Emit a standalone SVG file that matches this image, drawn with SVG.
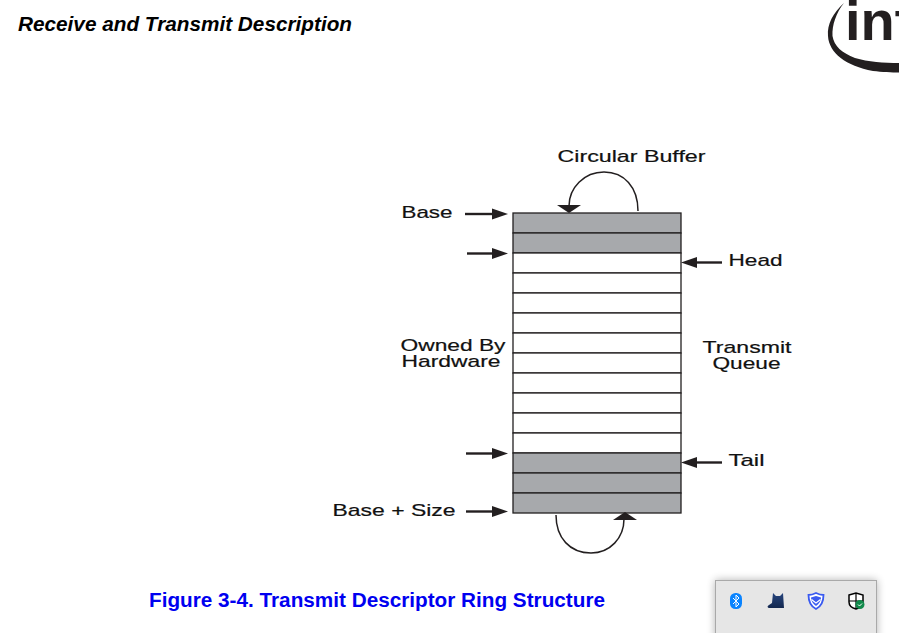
<svg xmlns="http://www.w3.org/2000/svg" width="899" height="633" viewBox="0 0 899 633">
<style>
.l{font-family:"Liberation Sans",Arial,sans-serif;font-size:17px;fill:#111;stroke:#111;stroke-width:.2}
.r{fill:#fff;stroke:#231f20;stroke-width:1.3}
.g{fill:#a7a9ac;stroke:#231f20;stroke-width:1.3}
.c{fill:none;stroke:#231f20;stroke-width:1.5}
.a{stroke:#231f20;stroke-width:2.4;fill:none}
.h{fill:#231f20}
</style>
<defs>
<filter id="sh" x="-10%" y="-20%" width="120%" height="140%"><feGaussianBlur stdDeviation="4"/></filter>
<linearGradient id="cat" x1="0" y1="0" x2="0" y2="1"><stop offset="0" stop-color="#27457e"/><stop offset="1" stop-color="#13284f"/></linearGradient>
</defs>
<rect width="899" height="633" fill="#fff"/>
<text x="18" y="31" font-family="'Liberation Sans',Arial,sans-serif" font-size="20" font-weight="bold" font-style="italic" fill="#000" textLength="334" lengthAdjust="spacingAndGlyphs">Receive and Transmit Description</text>
<g id="logo">
<path d="M844 3C833 13 827 24 828 36C829 53 846 66 873 71C882 72 892 72.500 899 72.500V63C884 63 868 62 855 58C842 53 834 46 832.500 36C832 25 836 13 844 3Z" fill="#231f20"/>
<text x="845" y="40" font-family="'Liberation Sans',Arial,sans-serif" font-size="56" font-weight="bold" fill="#231f20">int</text>
</g>
<g id="ring">
<rect class="g" x="513" y="213" width="168" height="20"/>
<rect class="g" x="513" y="233" width="168" height="20"/>
<rect class="r" x="513" y="253" width="168" height="20"/>
<rect class="r" x="513" y="273" width="168" height="20"/>
<rect class="r" x="513" y="293" width="168" height="20"/>
<rect class="r" x="513" y="313" width="168" height="20"/>
<rect class="r" x="513" y="333" width="168" height="20"/>
<rect class="r" x="513" y="353" width="168" height="20"/>
<rect class="r" x="513" y="373" width="168" height="20"/>
<rect class="r" x="513" y="393" width="168" height="20"/>
<rect class="r" x="513" y="413" width="168" height="20"/>
<rect class="r" x="513" y="433" width="168" height="20"/>
<rect class="g" x="513" y="453" width="168" height="20"/>
<rect class="g" x="513" y="473" width="168" height="20"/>
<rect class="g" x="513" y="493" width="168" height="20"/>
</g>
<g id="connectors">
<path class="c" d="M638 211C638 187 624 172 604 172C584 172 569 188 569 206"/>
<path class="h" d="M557 205H581L569 213Z"/>
<path class="c" d="M556 515C556 538 570 553 591 553C610 553 624 538 624 519"/>
<path class="h" d="M613 520H637L625 512Z"/>
<path class="a" d="M465 214H496"/><path class="h" d="M492 208.500L508 214L492 219.500Z"/>
<path class="a" d="M467 253.500H496"/><path class="h" d="M492 248L508 253.500L492 259Z"/>
<path class="a" d="M466 453.500H495"/><path class="h" d="M492 448L508 453.500L492 459Z"/>
<path class="a" d="M466 511.500H495"/><path class="h" d="M492 506L508 511.500L492 517Z"/>
<path class="a" d="M694 262.500H722"/><path class="h" d="M697 257L681 262.500L697 268Z"/>
<path class="a" d="M694 462.500H722"/><path class="h" d="M697 457L681 462.500L697 468Z"/>
</g>
<g id="labels">
<text class="l" x="557.500" y="162" textLength="148" lengthAdjust="spacingAndGlyphs">Circular Buffer</text>
<text class="l" x="401.500" y="218" textLength="51" lengthAdjust="spacingAndGlyphs">Base</text>
<text class="l" x="728.500" y="266" textLength="54" lengthAdjust="spacingAndGlyphs">Head</text>
<text class="l" x="400.500" y="351" textLength="105" lengthAdjust="spacingAndGlyphs">Owned By</text>
<text class="l" x="401.500" y="367" textLength="99" lengthAdjust="spacingAndGlyphs">Hardware</text>
<text class="l" x="702.500" y="353" textLength="89" lengthAdjust="spacingAndGlyphs">Transmit</text>
<text class="l" x="712.500" y="369" textLength="68" lengthAdjust="spacingAndGlyphs">Queue</text>
<text class="l" x="728.500" y="466" textLength="36" lengthAdjust="spacingAndGlyphs">Tail</text>
<text class="l" x="332.500" y="516" textLength="123" lengthAdjust="spacingAndGlyphs">Base + Size</text>
</g>
<text x="149" y="607" font-family="'Liberation Sans',Arial,sans-serif" font-size="20" font-weight="bold" fill="#0000f0" textLength="456" lengthAdjust="spacingAndGlyphs">Figure 3-4. Transmit Descriptor Ring Structure</text>
<g id="tray">
<rect x="715" y="580" width="162" height="60" fill="#000" opacity=".3" filter="url(#sh)"/>
<rect x="715.500" y="580.500" width="161" height="60" fill="#e6e6e6" stroke="#a9a9a9"/>
<rect x="730" y="593" width="12" height="16" rx="5.500" fill="#0a84ff"/>
<path d="M733 598L739 604L736 607V595L739 598L733 604" fill="none" stroke="#fff" stroke-width="1"/>
<path d="M773 593L776 596H780L783 593L784 608H770C767 608 767 606 769 605L772 603Z" fill="url(#cat)"/>
<path d="M808.500 595C812 595 814 594 816 593C818 594 820 595 823.500 595C823.500 602 821 606.500 816 609C811 606.500 808.500 602 808.500 595Z" fill="#fff" stroke="#3a5af0" stroke-width="1.800"/>
<path d="M811 597.500L816 596L821 597.500C821 601 819 604 816 606C813 604 811 601 811 597.500Z" fill="#3a5af0"/>
<path d="M811.500 599.500L816 603L820.500 599.500" fill="none" stroke="#fff" stroke-width="1.200"/>
<path d="M849 595L856 593L863 595V602C863 606 860 608 856 609C852 608 849 606 849 602Z" fill="#fff" stroke="#000" stroke-width="1.500"/>
<path d="M856 593V609M849 601H863" stroke="#000" stroke-width="1.200"/>
<circle cx="860" cy="604.500" r="4.500" fill="#118a4b"/>
<path d="M858 604.500L859.500 606L862 603.500" fill="none" stroke="#fff"/>
</g>
</svg>
